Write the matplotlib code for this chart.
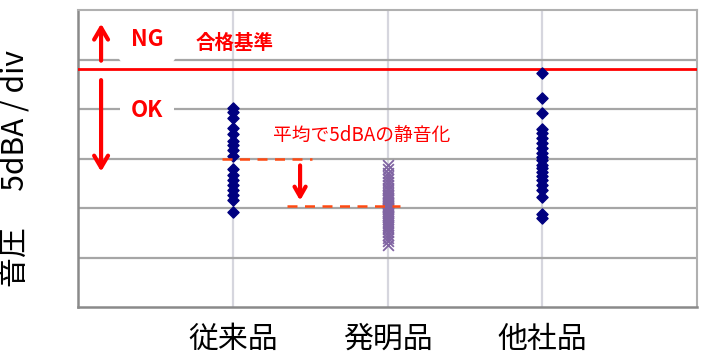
import numpy as np
import matplotlib.pyplot as plt

plt.rcParams['font.family'] = ['Noto Sans CJK JP', 'DejaVu Sans']

# categories on the x axis
categories = ['従来品', '発明品', '他社品']

# sound pressure readings (dBA, 5 dBA per division)
conventional = [20.1, 19.7, 19.1, 18.1, 17.5, 16.8, 16.4, 15.9, 15.3,
                13.9, 13.3, 12.8, 12.3, 11.8, 11.3, 10.8, 9.6]
invention = [14.3, 13.9, 13.5, 13.2, 12.9, 12.6, 12.3, 12.0, 11.8, 11.5,
             11.3, 11.2, 11.0, 10.9, 10.8, 10.6, 10.5, 10.4, 10.2, 10.1,
             10.0, 9.9, 9.7, 9.6, 9.5, 9.3, 9.2, 9.1, 8.9, 8.7,
             8.5, 8.3, 8.1, 7.9, 7.6, 7.3, 7.0, 6.7, 6.3]
competitor = [23.6, 21.1, 19.6, 18.0, 17.6, 17.1, 16.6, 16.1, 15.6, 15.2,
              14.8, 14.3, 14.0, 13.6, 13.2, 12.8, 12.3, 11.8, 11.1, 9.4, 9.0]

# pass/fail limit
limit = 24.0

fig = plt.figure(figsize=(7.01, 3.6), dpi=100)
ax = fig.add_axes([0.1113, 0.1472, 0.883, 0.825])

ax.set_xlim(0, 4)
ax.set_ylim(0, 30)
ax.set_xticks([1, 2, 3])
ax.set_yticks(np.arange(5, 30, 5))
ax.set_xticklabels(categories, fontsize=21.5)
ax.set_yticklabels([])
ax.tick_params(length=0, pad=12)
ax.yaxis.grid(True, color='#a6a6a6', lw=1.6, zorder=0)
ax.xaxis.grid(True, color='#d6d6de', lw=1.6, zorder=0)
ax.set_axisbelow(True)
for side in ['top', 'right']:
    ax.spines[side].set_color('#b0b0b0')
    ax.spines[side].set_linewidth(1.5)
for side in ['left', 'bottom']:
    ax.spines[side].set_color('#8a8a8a')
    ax.spines[side].set_linewidth(1.8)

ax.set_ylabel('音圧\u3000 5dBA / div', fontsize=21.5)
ax.yaxis.set_label_coords(-0.075, 0.465)

# scatter columns
ax.scatter(np.full(len(conventional), 1), conventional, marker='D', s=32,
           color='#000080', zorder=4)
ax.scatter(np.full(len(invention), 2), invention, marker='x', s=60,
           color='#8064a2', lw=1.3, zorder=4)
ax.scatter(np.full(len(competitor), 3), competitor, marker='D', s=32,
           color='#000080', zorder=4)

# limit line
ax.axhline(limit, color='#ff0000', lw=2, zorder=3)

# NG / OK arrows and labels
head = '->,head_length=0.85,head_width=0.5'
ax.annotate('', xy=(0.149, 28.9), xytext=(0.149, 24.6),
            arrowprops=dict(arrowstyle=head, color='#ff0000', lw=3))
ax.annotate('', xy=(0.149, 13.4), xytext=(0.149, 23.2),
            arrowprops=dict(arrowstyle=head, color='#ff0000', lw=3))
ax.text(0.446, 27.0, 'NG', color='#ff0000', fontsize=16, fontweight='bold',
        ha='center', va='center', zorder=3,
        bbox=dict(boxstyle='round,pad=0.6', fc='white', ec='none'))
ax.text(0.446, 19.8, 'OK', color='#ff0000', fontsize=16, fontweight='bold',
        ha='center', va='center', zorder=3,
        bbox=dict(boxstyle='square,pad=0.5', fc='white', ec='none'))
ax.text(1.01, 26.6, '合格基準', color='#ff0000', fontsize=14,
        fontweight='bold', ha='center', va='center', zorder=3)

# mean lines and improvement arrow
m1 = np.mean(conventional)
m2 = np.mean(invention)
ax.plot([0.93, 1.51], [m1, m1], color='#ff4a12', lw=1.8, ls=(0, (4, 3)), zorder=5)
ax.plot([1.35, 2.08], [m2, m2], color='#ff4a12', lw=1.8, ls=(0, (4, 3)), zorder=5)
ax.annotate('', xy=(1.435, m2 + 0.3), xytext=(1.435, m1 - 0.4),
            arrowprops=dict(arrowstyle='->,head_length=0.7,head_width=0.4',
                            color='#ff0000', lw=3))
ax.text(1.83, 17.3, '平均で5dBAの静音化', color='#ff0000', fontsize=13.5,
        ha='center', va='center', zorder=3)

fig.savefig('out.png', dpi=100)
